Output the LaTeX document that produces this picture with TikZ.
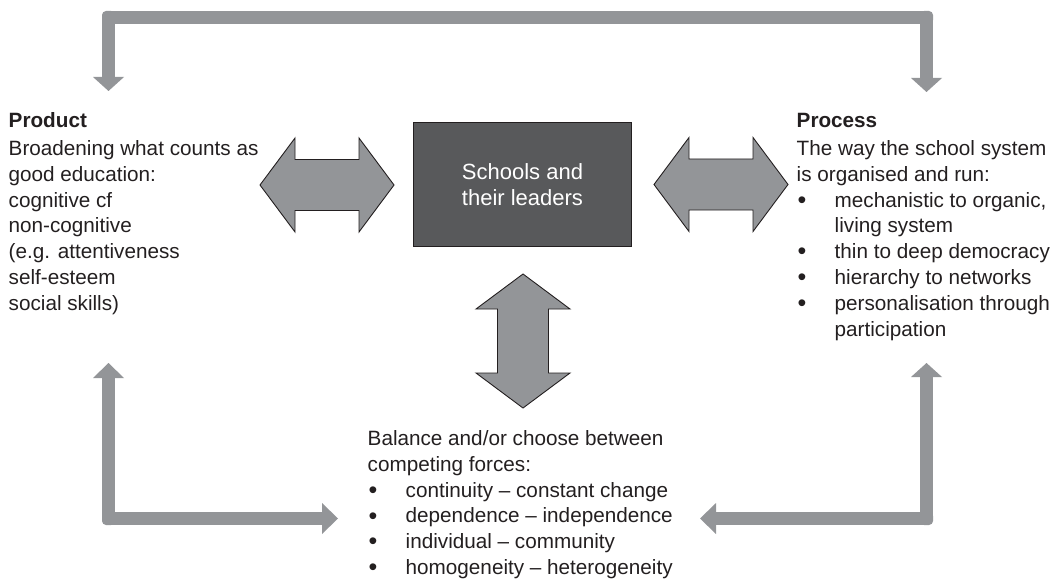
\documentclass[tikz,border=0pt]{standalone}
\usepackage{fontspec}
\setmainfont{Liberation Sans}
\definecolor{arrowgray}{HTML}{939598}
\definecolor{boxgray}{HTML}{58595B}
\definecolor{ink}{HTML}{231F20}
\newcommand\myblt{\hspace*{1pt}\makebox[37pt][l]{\raisebox{-1.2pt}{\fontsize{25}{25.8}\selectfont •}}}
\newcommand\myindent{\hspace*{38pt}}
\begin{document}
\begin{tikzpicture}[x=1pt,y=-1pt,
  txt/.style={anchor=base west, inner sep=0pt, align=left, text=ink, font=\fontsize{20.7}{25.8}\selectfont},
  fat/.style={fill=arrowgray},
  dbl/.style={fill=arrowgray, draw=ink, line width=0.9pt, line join=miter},
  dblarrow/.pic={\filldraw[dbl] (-67,0) -- (-32,-47) -- (-32,-25.5) -- (32,-25.5) -- (32,-47) -- (67,0)
     -- (32,47) -- (32,25.5) -- (-32,25.5) -- (-32,47) -- cycle;}
]
\useasboundingbox (0,0) rectangle (1056,580);

% central box
\node[draw=ink, line width=0.6pt, fill=boxgray, minimum width=218pt, minimum height=124pt,
      text=white, align=center, font=\fontsize{22}{26.5}\selectfont] (schools) at (522.5,184.5)
      {Schools and\\their leaders};

% text blocks (anchor = baseline of last line)
\node[txt] (product) at (8.5,310.3) {\textbf{Product}\\[2pt]
  Broadening what counts as\\
  good education:\\
  cognitive cf\\
  non-cognitive\\
  (e.g. attentiveness\\
  self-esteem\\
  social skills)};

\node[txt] (process) at (796.5,336.1) {\textbf{Process}\\[2pt]
  The way the school system\\
  is organised and run:\\
  \myblt mechanistic to organic,\\
  \myindent living system\\
  \myblt thin to deep democracy\\
  \myblt hierarchy to networks\\
  \myblt personalisation through\\
  \myindent participation};

\node[txt] (balance) at (367.5,574.5) {Balance and/or choose between\\
  competing forces:\\
  \myblt continuity – constant change\\
  \myblt dependence – independence\\
  \myblt individual – community\\
  \myblt homogeneity – heterogeneity};

% double arrows
\coordinate (leftdbl) at (327,185);
\coordinate (rightdbl) at (721,184.5);
\coordinate (downdbl) at (523,341);
\pic at (leftdbl) {dblarrow};
\pic at (rightdbl) {dblarrow};
\pic[rotate=90] at (downdbl) {dblarrow};

% tips of the bracket arrows
\coordinate (prodTop) at (108.5,91);
\coordinate (procTop) at (926.5,92);
\coordinate (prodBot) at (108.5,363);
\coordinate (procBot) at (926.5,363);
\coordinate (balL) at (338,518.5);
\coordinate (balR) at (700,518.5);

% top bracket
\fill[fat] (108,11) rectangle (927,24);
\fill[fat] (102,17) rectangle (115,78);
\fill[fat] (920,17) rectangle (933,78);
\fill[fat, rounded corners=4] (102,11) rectangle (115,24);
\fill[fat, rounded corners=4] (920,11) rectangle (933,24);
\fill[fat] (prodTop) -- ++(-15.5,-14) -- ++(31,0) -- cycle;
\fill[fat] (procTop) -- ++(-15.5,-14) -- ++(31,0) -- cycle;

% bottom-left bracket
\fill[fat] (102,372) rectangle (115,519);
\fill[fat] (108,512) rectangle (323,525);
\fill[fat, rounded corners=4] (102,512) rectangle (115,525);
\fill[fat] (prodBot) -- ++(-15.5,15) -- ++(31,0) -- cycle;
\fill[fat] (balL) -- ++(-16,-15.5) -- ++(0,31) -- cycle;

% bottom-right bracket
\fill[fat] (920,372) rectangle (933,519);
\fill[fat] (715,512) rectangle (927,525);
\fill[fat, rounded corners=4] (920,512) rectangle (933,525);
\fill[fat] (procBot) -- ++(-15.5,14) -- ++(31,0) -- cycle;
\fill[fat] (balR) -- ++(16,-15.5) -- ++(0,31) -- cycle;
\end{tikzpicture}
\end{document}
